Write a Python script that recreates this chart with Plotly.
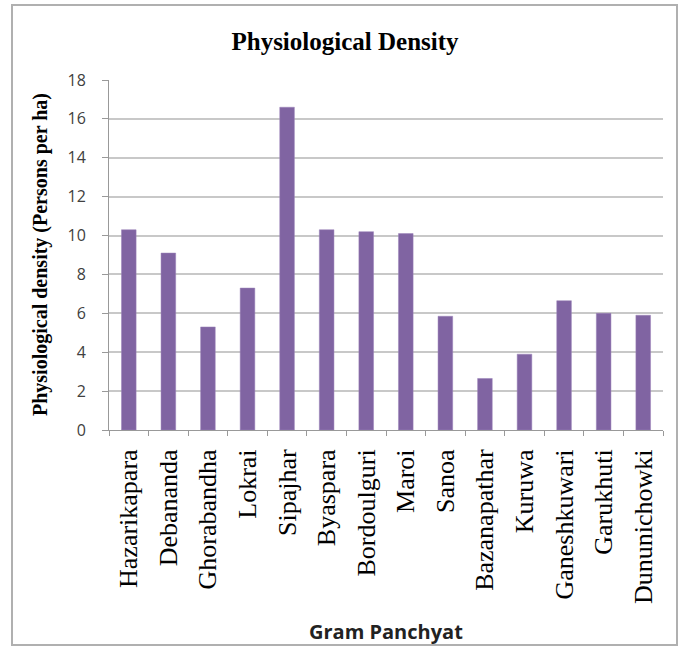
import plotly.graph_objects as go

categories = ["Hazarikapara", "Debananda", "Ghorabandha", "Lokrai", "Sipajhar",
              "Byaspara", "Bordoulguri", "Maroi", "Sanoa", "Bazanapathar",
              "Kuruwa", "Ganeshkuwari", "Garukhuti", "Dununichowki"]
density = [10.3, 9.1, 5.3, 7.3, 16.6, 10.3, 10.2, 10.1, 5.85, 2.65, 3.9, 6.65, 6.0, 5.9]
y_ticks = [0, 2, 4, 6, 8, 10, 12, 14, 16, 18]

serif = "Liberation Serif, Times New Roman, serif"
sans = "Open Sans, Liberation Sans, sans-serif"

# plot area in pixels
L, R, T, B = 109, 663, 80, 430
W, H = R - L, B - T

fig = go.Figure()
fig.add_trace(go.Bar(
    x=categories, y=density,
    marker=dict(color="#8064A2", line=dict(color="#9a83b8", width=0.5)),
))

fig.update_layout(
    width=683, height=647,
    margin=dict(l=L, r=683 - R, t=T, b=647 - B),
    paper_bgcolor="white", plot_bgcolor="white",
    bargap=0.63,
    showlegend=False,
    title=dict(text="<b>Physiological Density</b>", x=345 / 683, xanchor="center",
               y=1 - 41 / 647, yanchor="middle",
               font=dict(family=serif, size=25, color="black")),
    xaxis=dict(
        type="category",
        tickangle=-90,
        tickfont=dict(family=serif, size=26, color="black"),
        ticks="outside", tickson="boundaries", ticklen=5, tickcolor="#999",
        ticklabelstandoff=8,
        showline=True, linecolor="#999", linewidth=1,
        showgrid=False,
    ),
    yaxis=dict(
        range=[0, 18], tickvals=y_ticks,
        tickfont=dict(family=sans, size=16, color="#404040"),
        ticks="outside", ticklen=6, tickcolor="#999",
        ticklabelstandoff=13,
        showline=True, linecolor="#999", linewidth=1,
        showgrid=True, gridcolor="#c8c8c8", gridwidth=1.5,
        zeroline=False,
    ),
)

fig.add_annotation(text="<b>Gram Panchyat</b>", xref="paper", yref="paper",
                   x=0.5, y=(B - 631) / H, xanchor="center", yanchor="middle",
                   showarrow=False, font=dict(family=sans, size=20, color="#222"))
fig.add_annotation(text="<b>Physiological density (Persons per ha)</b>",
                   xref="paper", yref="paper", textangle=-90,
                   x=(40 - L) / W, y=(B - 255) / H, xanchor="center", yanchor="middle",
                   showarrow=False, font=dict(family=serif, size=20, color="black"))

fig.add_shape(type="rect", xref="paper", yref="paper",
              x0=(12 - L) / W, x1=(677 - L) / W,
              y0=(B - 645) / H, y1=(B - 5) / H,
              line=dict(color="#b0b0b0", width=2), fillcolor="rgba(0,0,0,0)", layer="below")

fig.write_html("out.html", config={"displayModeBar": False},
               post_script="document.body.style.margin='0';")
